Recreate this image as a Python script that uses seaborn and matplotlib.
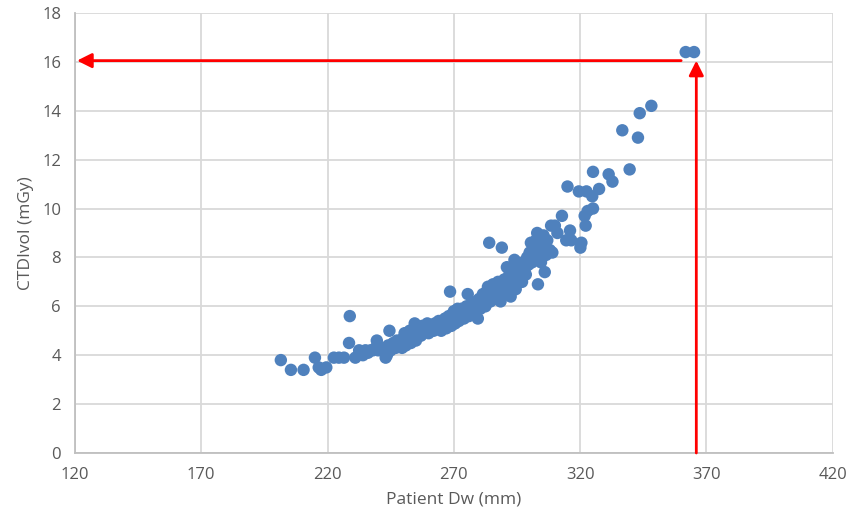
import pandas as pd
import matplotlib
matplotlib.use("Agg")
import matplotlib.pyplot as plt
import seaborn as sns

# Patient water-equivalent diameter (mm) vs CTDIvol (mGy)
dw_mm = [
    201.5, 205.5, 210.5, 215.0, 216.5, 217.5, 219.5, 222.5, 224.5, 226.5,
    228.5, 228.8, 231.0, 232.5, 234.0, 235.0, 236.0, 237.0, 238.0, 239.0,
    239.5, 240.0, 241.0, 242.0, 243.0, 243.5, 244.0, 244.5, 245.0, 246.0,
    247.0, 247.5, 248.0, 249.0, 249.5, 250.0, 250.5, 251.0, 251.5, 252.0,
    252.5, 253.0, 253.5, 254.0, 254.5, 255.0, 255.5, 256.0, 257.0, 257.5,
    258.0, 259.0, 259.5, 260.0, 261.0, 262.0, 262.5, 263.0, 264.0, 265.0,
    265.5, 266.0, 266.5, 267.0, 267.5, 268.0, 268.5, 269.0, 269.5, 270.0,
    270.5, 271.0, 271.5, 272.0, 272.5, 273.0, 274.0, 274.5, 275.0, 275.5,
    276.0, 276.5, 277.0, 278.0, 278.5, 279.0, 279.5, 280.0, 280.5, 281.0,
    281.5, 282.0, 282.5, 283.0, 283.5, 284.0, 284.5, 285.0, 285.5, 286.0,
    286.5, 287.0, 287.5, 288.0, 288.5, 289.0, 289.5, 290.0, 290.5, 291.0,
    291.5, 292.0, 292.5, 293.0, 293.5, 294.0, 294.5, 295.0, 295.5, 296.0,
    297.0, 297.5, 298.0, 298.5, 299.0, 299.5, 300.0, 300.5, 301.0, 301.5,
    302.0, 302.5, 303.0, 303.3, 303.5, 304.0, 304.5, 305.0, 305.5, 306.0,
    306.5, 307.0, 308.0, 308.5, 309.0, 310.0, 311.0, 312.8, 314.5, 315.0,
    316.0, 316.5, 319.5, 320.1, 320.5, 321.8, 322.2, 322.5, 323.0, 324.8,
    325.1, 325.1, 327.5, 331.3, 332.8, 336.7, 339.6, 342.9, 343.6, 348.2,
    361.8, 365.1,
]
ctdi_mgy = [
    3.8, 3.4, 3.4, 3.9, 3.5, 3.4, 3.5, 3.9, 3.9, 3.9,
    4.5, 5.6, 3.9, 4.2, 4.0, 4.2, 4.1, 4.2, 4.2, 4.3,
    4.6, 4.2, 4.3, 4.2, 3.9, 4.0, 4.4, 5.0, 4.2, 4.5,
    4.3, 4.6, 4.4, 4.5, 4.3, 4.7, 4.9, 4.4, 4.6, 4.8,
    5.0, 4.5, 4.7, 4.9, 5.3, 4.6, 4.8, 5.0, 4.8, 5.2,
    5.0, 5.1, 5.3, 4.9, 5.2, 5.0, 5.3, 5.1, 5.4, 5.0,
    5.3, 5.2, 5.5, 5.1, 5.4, 5.6, 6.6, 5.2, 5.5, 5.8,
    5.3, 5.6, 5.9, 5.4, 5.7, 5.9, 5.5, 5.8, 6.0, 6.5,
    5.6, 5.9, 6.1, 5.7, 6.0, 6.2, 5.5, 6.3, 5.9, 6.1,
    6.5, 6.3, 6.0, 6.6, 6.8, 8.6, 6.2, 6.5, 6.9, 6.3,
    6.7, 6.4, 7.0, 6.6, 6.2, 8.4, 6.8, 7.1, 6.5, 7.6,
    6.9, 7.3, 6.4, 7.0, 7.5, 7.9, 6.7, 7.2, 7.6, 7.4,
    7.0, 7.8, 7.5, 7.3, 8.0, 7.7, 8.2, 8.6, 7.8, 8.4,
    8.0, 8.7, 9.0, 6.9, 8.3, 8.8, 7.8, 8.5, 8.9, 7.4,
    8.1, 8.7, 8.3, 9.3, 8.2, 9.3, 9.0, 9.7, 8.7, 10.9,
    9.1, 8.7, 10.7, 8.4, 8.6, 9.7, 9.3, 10.7, 9.9, 10.5,
    10.0, 11.5, 10.8, 11.4, 11.1, 13.2, 11.6, 12.9, 13.9, 14.2,
    16.4, 16.4,
]

# reading of the largest patient (red guide arrows)
read_dw = 366
read_ctdi = 16.05

df = pd.DataFrame({"Patient Dw (mm)": dw_mm, "CTDIvol (mGy)": ctdi_mgy})

sns.set_style("white")
plt.rcParams["font.family"] = ["Open Sans", "DejaVu Sans"]

fig = plt.figure(figsize=(8.62, 5.18), dpi=100)
ax = fig.add_axes([0.087, 0.1255, 0.879, 0.8495])

sns.scatterplot(data=df, x="Patient Dw (mm)", y="CTDIvol (mGy)", ax=ax,
                color="#4F81BD", s=80, edgecolor="none", zorder=3)

ax.set_xlim(120, 420)
ax.set_ylim(0, 18)
ax.set_xticks(range(120, 421, 50))
ax.set_yticks(range(0, 19, 2))
ax.grid(True, color="#D9D9D9", linewidth=1.3)
ax.set_axisbelow(True)

for side in ["top", "right"]:
    ax.spines[side].set_visible(False)
for side in ["left", "bottom"]:
    ax.spines[side].set_color("#BFBFBF")
    ax.spines[side].set_linewidth(1.3)

ax.tick_params(length=0, labelsize=12, labelcolor="#595959", pad=10)
ax.set_xlabel("Patient Dw (mm)", fontsize=12.5, color="#595959", labelpad=6)
ax.set_ylabel("CTDIvol (mGy)", fontsize=12.5, color="#595959", labelpad=6)

# guide arrows
arrow = dict(arrowstyle="-|>", color="red", lw=2, mutation_scale=22,
             shrinkA=0, shrinkB=0)
ax.annotate("", xy=(read_dw, read_ctdi), xytext=(read_dw, 0),
            arrowprops=arrow, zorder=4, annotation_clip=False)
ax.annotate("", xy=(120.8, read_ctdi), xytext=(360, read_ctdi),
            arrowprops=arrow, zorder=4, annotation_clip=False)

fig.savefig("out.png", dpi=100)
